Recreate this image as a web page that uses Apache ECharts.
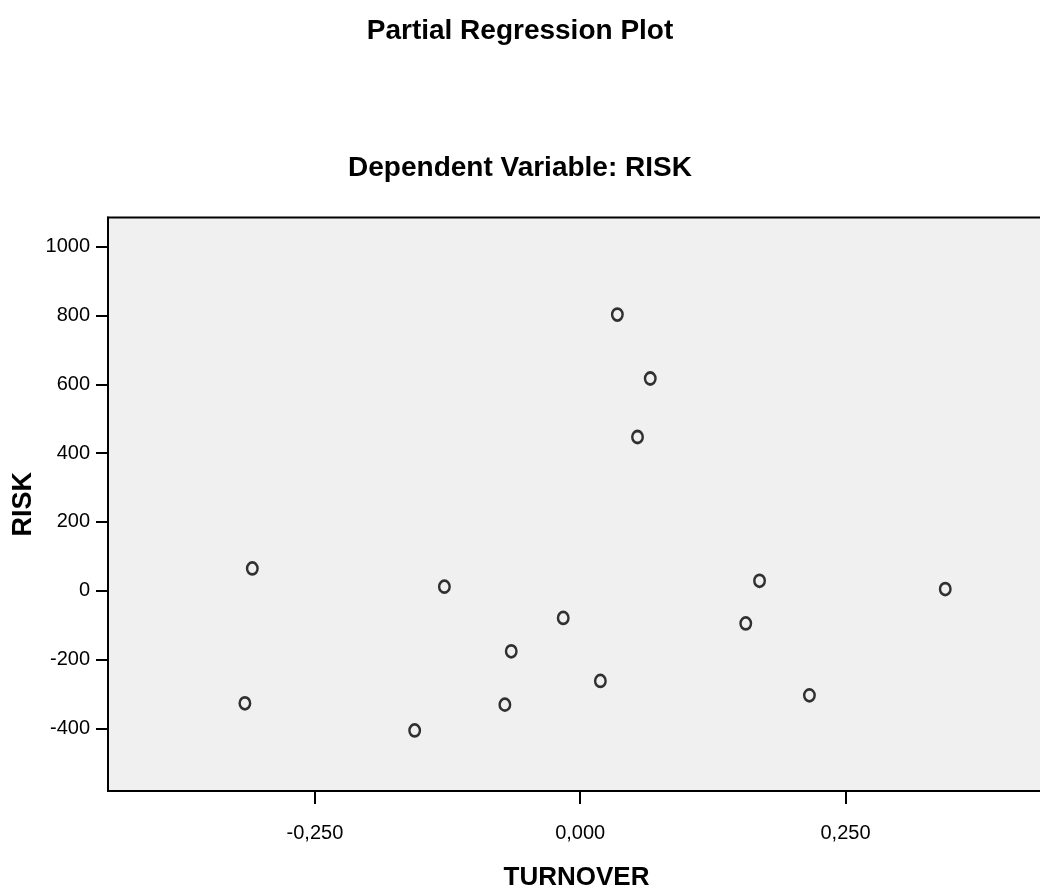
<!DOCTYPE html>
<html>
<head>
<meta charset="utf-8">
<script src="https://cdn.jsdelivr.net/npm/echarts@6/dist/echarts.min.js"></script>
<style>
  html, body { margin: 0; padding: 0; background: #ffffff; }
  #chart { width: 1040px; height: 890px; }
</style>
</head>
<body>
<div id="chart"></div>
<script>
// Partial regression of RISK on TURNOVER (residuals)
const turnover = [-0.309, -0.316, -0.128, -0.156, -0.065, -0.071, -0.016, 0.019,
                  0.035, 0.066, 0.054, 0.169, 0.156, 0.216, 0.344];
const risk     = [65, -327, 12, -406, -176, -331, -79, -262,
                  803, 617, 447, 29, -95, -304, 5];

const xTicks = [-0.25, 0, 0.25];
const yTicks = [-400, -200, 0, 200, 400, 600, 800, 1000];

const points = turnover.map((t, i) => [t, risk[i]]);

const boldFont = "'Liberation Sans', Arial, sans-serif";
const tickFont = "'Liberation Sans', Arial, sans-serif";

const chart = echarts.init(document.getElementById('chart'), null, { renderer: 'canvas' });

chart.setOption({
  backgroundColor: '#ffffff',
  animation: false,
  title: [
    {
      text: 'Partial Regression Plot',
      left: 'center',
      top: 17,
      padding: 0,
      textStyle: { fontFamily: boldFont, fontWeight: 'bold', fontSize: 28, color: '#000' }
    },
    {
      text: 'Dependent Variable: RISK',
      left: 'center',
      top: 154,
      padding: 0,
      textStyle: { fontFamily: boldFont, fontWeight: 'bold', fontSize: 28, color: '#000' }
    }
  ],
  grid: {
    left: 108,
    right: -5,
    top: 217.5,
    bottom: 99,
    outerBoundsMode: 'none',
    containLabel: false,
    show: true,
    backgroundColor: '#f0f0f0',
    borderColor: '#000',
    borderWidth: 2
  },
  xAxis: {
    type: 'value',
    min: -0.445,
    max: 0.438,
    name: 'TURNOVER',
    nameLocation: 'middle',
    nameGap: 74,
    nameMoveOverlap: false,
    nameTextStyle: { fontFamily: boldFont, fontWeight: 'bold', fontSize: 26, color: '#000' },
    splitLine: { show: false },
    axisLine: { show: true, onZero: false, lineStyle: { color: '#000', width: 2 } },
    axisTick: { show: true, length: 13, lineStyle: { color: '#000', width: 2 }, customValues: xTicks },
    axisLabel: {
      customValues: xTicks,
      margin: 32,
      fontFamily: tickFont,
      fontSize: 20,
      color: '#000',
      formatter: v => v.toFixed(3).replace('.', ',')
    }
  },
  yAxis: {
    type: 'value',
    min: -582,
    max: 1085,
    name: 'RISK',
    nameLocation: 'middle',
    nameGap: 71,
    nameMoveOverlap: false,
    nameTextStyle: { fontFamily: boldFont, fontWeight: 'bold', fontSize: 27, color: '#000' },
    splitLine: { show: false },
    axisLine: { show: true, onZero: false, lineStyle: { color: '#000', width: 2 } },
    axisTick: { show: true, length: 12, lineStyle: { color: '#000', width: 2 }, customValues: yTicks },
    axisLabel: {
      customValues: yTicks,
      margin: 18,
      fontFamily: tickFont,
      fontSize: 20,
      color: '#000',
      formatter: v => String(v)
    }
  },
  series: [
    {
      type: 'scatter',
      data: points,
      symbol: 'circle',
      symbolSize: [10.5, 12],
      itemStyle: { color: 'rgba(0,0,0,0)', borderColor: '#000', borderWidth: 2.6 }
    }
  ]
});
</script>
</body>
</html>
